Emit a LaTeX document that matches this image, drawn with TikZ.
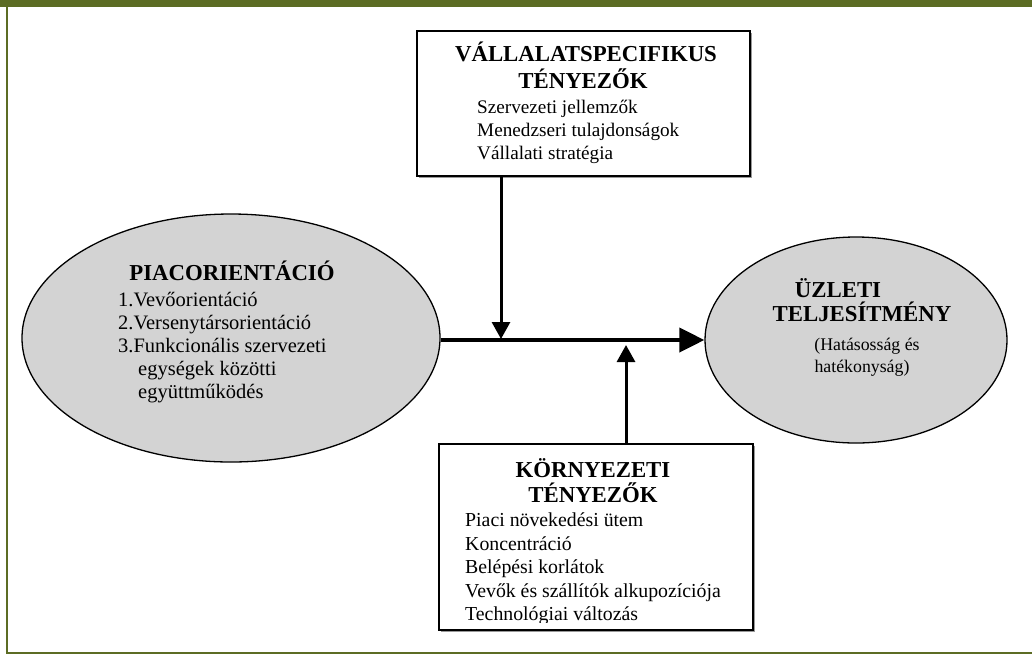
\documentclass[tikz,border=0pt]{standalone}
\usepackage{fontspec}
\setmainfont{Liberation Serif}
\usetikzlibrary{arrows.meta,shapes.geometric,shadows}
\definecolor{framegreen}{RGB}{92,108,36}
\definecolor{ovalgray}{RGB}{211,211,211}

\begin{document}
\begin{tikzpicture}[x=1pt, y=-1pt, line join=miter]
    \tikzstyle{box_style} = [draw=black, line width=2pt, fill=white, inner sep=0pt,
        drop shadow={shadow xshift=1.5pt, shadow yshift=-1.5pt, fill=gray!80, opacity=1}]
    \tikzstyle{oval_style} = [ellipse, draw=black, line width=1.3pt, fill=ovalgray, inner sep=0pt]
    \tikzstyle{head_style} = [font=\fontsize{22.8}{27}\selectfont\bfseries, inner sep=0pt, anchor=base]
    \tikzstyle{top_item} = [font=\fontsize{19.2}{23}\selectfont, inner sep=0pt, anchor=base west]
    \tikzstyle{oval_item} = [font=\fontsize{20.5}{23}\selectfont, inner sep=0pt, anchor=base west]
    \tikzstyle{low_item} = [font=\fontsize{19.8}{23}\selectfont, inner sep=0pt, anchor=base west]
    \tikzstyle{center_item} = [font=\fontsize{17.8}{23}\selectfont, inner sep=0pt, anchor=base]
    \tikzstyle{link_style} = [draw=black, line width=3pt, -{Triangle[length=17pt,width=18pt]}]
    \tikzstyle{main_style} = [draw=black, line width=4pt, -{Triangle[length=25pt,width=24pt]}]
    \useasboundingbox (0,0) rectangle (1032,654);

    % frame
    \fill[framegreen] (0,0) rectangle (1032,7);
    \draw[framegreen, line width=2pt] (6.5,7) -- (6.5,652.5) -- (1032,652.5);

    % shapes
    \node[oval_style, minimum width=418pt, minimum height=248pt] (piac) at (231,338) {};
    \node[oval_style, minimum width=302pt, minimum height=206pt] (uzleti) at (856,340) {};
    \node[box_style, minimum width=333pt, minimum height=145pt] (vallalat) at (583.5,103.5) {};
    \node[box_style, minimum width=314pt, minimum height=186pt] (kornyezet) at (596,537) {};

    % top box text
    \node[head_style] (v_head1) at (586,61.5) {VÁLLALATSPECIFIKUS};
    \node[head_style] (v_head2) at (583,88.5) {TÉNYEZŐK};
    \node[top_item] (v_item1) at (477,113) {Szervezeti jellemzők};
    \node[top_item] (v_item2) at (477,136) {Menedzseri tulajdonságok};
    \node[top_item] (v_item3) at (477,159) {Vállalati stratégia};

    % left oval text
    \node[head_style] (p_head) at (232,280) {PIACORIENTÁCIÓ};
    \node[oval_item] (p_item1) at (118,306) {1.Vevőorientáció};
    \node[oval_item] (p_item2) at (118,329) {2.Versenytársorientáció};
    \node[oval_item] (p_item3) at (118,352) {3.Funkcionális szervezeti};
    \node[oval_item] (p_item4) at (138,375) {egységek közötti};
    \node[oval_item] (p_item5) at (138,398) {együttműködés};

    % right oval text
    \node[head_style] (u_head1) at (838,297) {ÜZLETI};
    \node[head_style] (u_head2) at (862,321) {TELJESÍTMÉNY};
    \node[center_item] (u_item1) at (867,350) {(Hatásosság és};
    \node[center_item] (u_item2) at (862,372) {hatékonyság)};

    % bottom box text
    \node[head_style] (k_head1) at (593,477) {KÖRNYEZETI};
    \node[head_style] (k_head2) at (593,502) {TÉNYEZŐK};
    \node[low_item] (k_item1) at (465,526) {Piaci növekedési ütem};
    \node[low_item] (k_item2) at (465,550) {Koncentráció};
    \node[low_item] (k_item3) at (465,573) {Belépési korlátok};
    \node[low_item] (k_item4) at (465,597) {Vevők és szállítók alkupozíciója};
    \begin{scope}
        \clip (441,605) rectangle (751,622.5);
        \node[low_item] (k_item5) at (465,620) {Technológiai változás};
    \end{scope}

    % arrows
    \coordinate (down_tip) at (501,339);
    \coordinate (up_tip) at (626,345);
    \draw[main_style] (piac.east |- 0,340) -- (uzleti.west);
    \draw[link_style] (vallalat.south -| down_tip) -- (down_tip);
    \draw[link_style] (kornyezet.north -| up_tip) -- (up_tip);
\end{tikzpicture}
\end{document}
